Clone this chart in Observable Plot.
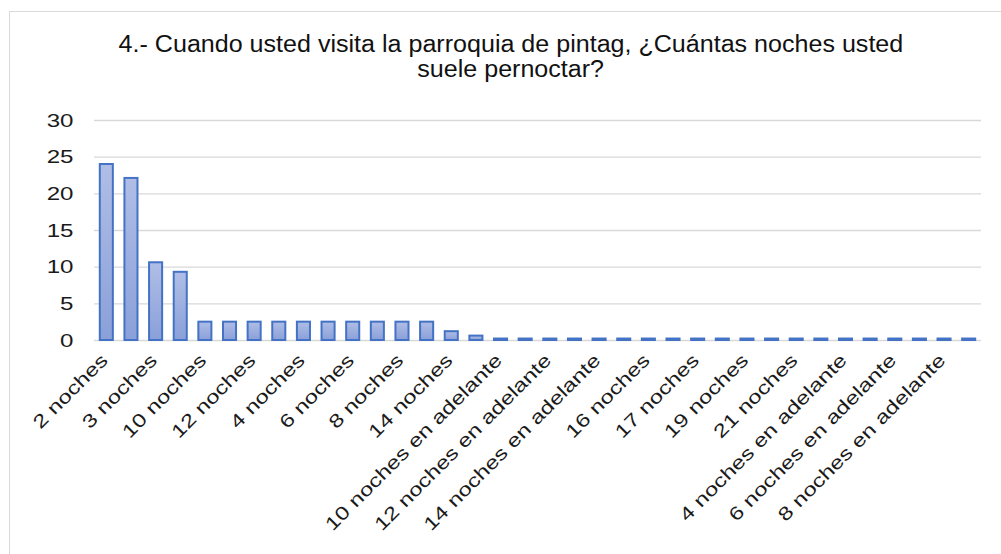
<!DOCTYPE html>
<html>
<head>
<meta charset="utf-8">
<script src="https://cdn.jsdelivr.net/npm/d3@7"></script>
<script src="https://cdn.jsdelivr.net/npm/@observablehq/plot@0.6"></script>
<style>
  html, body { margin: 0; padding: 0; background: #fff; width: 1001px; height: 554px; overflow: hidden; }
  #frame { position: absolute; left: 9px; top: 11px; width: 1100px; height: 700px; border: 1px solid #d9d9d9; }
  #title { position: absolute; left: 20px; top: 32px; width: 981px; text-align: center;
           font-family: "Liberation Sans", Arial, sans-serif; font-size: 23px; line-height: 25px; color: #111; }
  #title .line { display: block; }
  #title .line span { display: inline-block; transform: scaleX(1.09); }
  #chart { position: absolute; left: 0; top: 100px; }
</style>
</head>
<body>
<div id="frame"></div>
<div id="title">
  <div class="line"><span>4.- Cuando usted visita la parroquia de pintag, ¿Cuántas noches usted</span></div>
  <div class="line"><span>suele pernoctar?</span></div>
</div>
<div id="chart"></div>
<script>
// Answer categories, in the order they are plotted
const categories = [
  "2 noches", "1 noche", "3 noches", "Ninguna",
  "10 noches", "11 noches", "12 noches", "13 noches", "4 noches",
  "5 noches", "6 noches", "7 noches", "8 noches", "9 noches",
  "14 noches", "15 noches",
  "10 noches en adelante", "11 noches en adelante", "12 noches en adelante",
  "13 noches en adelante", "14 noches en adelante", "15 noches en adelante",
  "16 noches", "16 noches en adelante", "17 noches", "18 noches",
  "19 noches", "20 noches", "21 noches", "3 noches en adelante",
  "4 noches en adelante", "5 noches en adelante", "6 noches en adelante",
  "7 noches en adelante", "8 noches en adelante", "9 noches en adelante"
];

// Share of respondents (%) for each category
const values = [
  24.0, 22.1, 10.6, 9.3,
  2.5, 2.5, 2.5, 2.5, 2.5,
  2.5, 2.5, 2.5, 2.5, 2.5,
  1.2, 0.6,
  0.2, 0.2, 0.2,
  0.2, 0.2, 0.2,
  0.2, 0.2, 0.2, 0.2,
  0.2, 0.2, 0.2, 0.2,
  0.2, 0.2, 0.2,
  0.2, 0.2, 0.2
];

// Value axis ticks
const yTicks = [0, 5, 10, 15, 20, 25, 30];

// Only every other category gets a printed label
const labelled = new Set(categories.filter((c, i) => i % 2 === 0));

const data = categories.map((category, i) => ({category, value: values[i]}));

const svg = Plot.plot({
  width: 1001,
  height: 454,
  marginTop: 20,
  marginBottom: 214,
  marginLeft: 94,
  marginRight: 20,
  style: {
    fontFamily: "'Liberation Sans', Arial, sans-serif",
    fontSize: "18.6px",
    color: "#1a1a1a",
    background: "transparent",
    overflow: "visible"
  },
  x: {domain: categories, paddingInner: 0.47, paddingOuter: 0.235, align: 0.5, round: false},
  y: {domain: [0, 30]},
  marks: [
    Plot.gridY(yTicks, {stroke: "#d9d9d9", strokeOpacity: 1, strokeWidth: 1.3}),
    Plot.barY(data, {
      x: "category",
      y: "value",
      fill: "url(#barFill)",
      stroke: "#4472c4",
      strokeWidth: 2
    }),
    Plot.axisY(yTicks, {tickSize: 0, tickPadding: 21, label: null, fill: "#1a1a1a", fontSize: 19}),
    Plot.axisX({
      tickSize: 0,
      tickPadding: 0,
      tickRotate: -45,
      textAnchor: "end",
      lineAnchor: "bottom",
      tickFormat: d => labelled.has(d) ? d : "",
      label: null,
      fill: "#1a1a1a",
      dx: 2,
      dy: 21
    })
  ]
});

// Vertical gradient used by the bars
const ns = "http://www.w3.org/2000/svg";
const defs = document.createElementNS(ns, "defs");
defs.innerHTML =
  '<linearGradient id="barFill" x1="0" y1="0" x2="0" y2="1">' +
  '<stop offset="0" stop-color="#b0bee6"/>' +
  '<stop offset="1" stop-color="#8aa0d9"/>' +
  '</linearGradient>';
svg.prepend(defs);

document.getElementById("chart").appendChild(svg);

// Widen axis label glyphs along their own baseline, keeping the anchored end fixed
function stretch(selector, k) {
  svg.querySelectorAll(selector).forEach(t => {
    if (!t.textContent) return;
    const b = t.getBBox();
    const ax = b.x + b.width;          // labels are end-anchored
    const ay = b.y + b.height / 2;
    const tr = t.getAttribute("transform") || "";
    t.setAttribute("transform",
      `${tr} translate(${ax},${ay}) scale(${k},1) translate(${-ax},${-ay})`);
  });
}
stretch('g[aria-label="y-axis tick label"] text', 1.27);
stretch('g[aria-label="x-axis tick label"] text', 1.28);
</script>
</body>
</html>
